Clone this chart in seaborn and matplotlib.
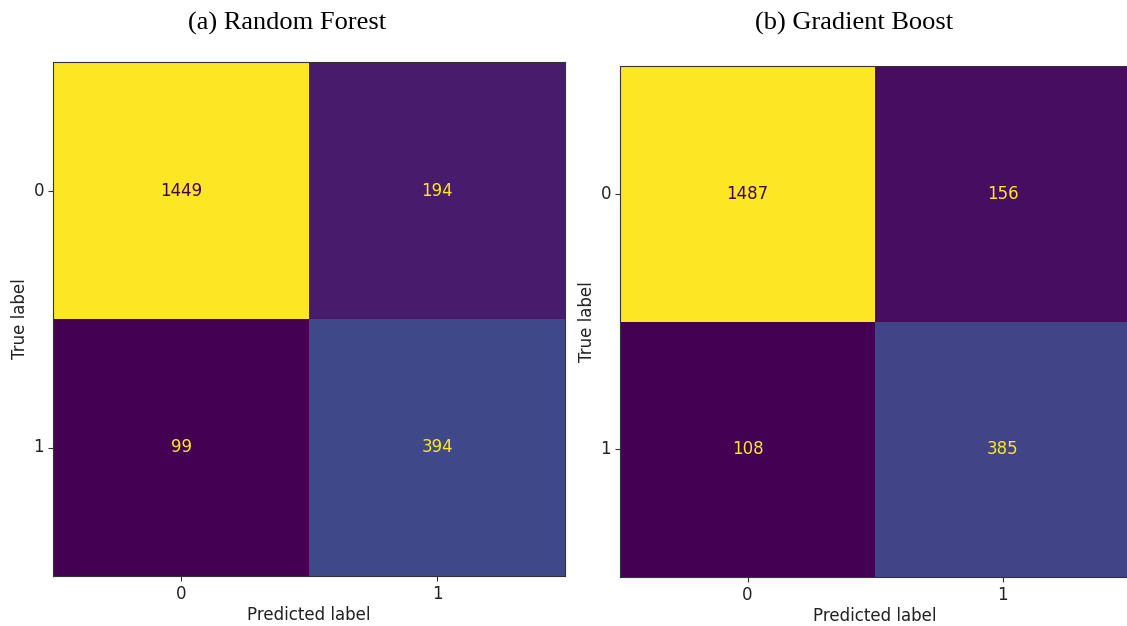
import numpy as np
import pandas as pd
import matplotlib
matplotlib.use("Agg")
import matplotlib.pyplot as plt
import seaborn as sns

# Confusion matrices (rows: true label, columns: predicted label)
class_labels = ["0", "1"]
rf_counts = [[1449, 194],
             [99, 394]]
gb_counts = [[1487, 156],
             [108, 385]]
panel_titles = ["(a) Random Forest", "(b) Gradient Boost"]

W, H = 1127, 626
fig = plt.figure(figsize=(W / 100, H / 100), dpi=100)

# axes rectangles in pixel units: left, top, right, bottom
boxes = [(53, 62, 565, 576), (620, 66, 1130, 577)]
title_y = [23, 23]
title_x = [287, 854]

cmap = plt.get_cmap("viridis")

for counts, title, box, tx, ty in zip([rf_counts, gb_counts], panel_titles, boxes, title_x, title_y):
    l, t, r, b = box
    ax = fig.add_axes([l / W, 1 - b / H, (r - l) / W, (b - t) / H])
    df = pd.DataFrame(np.array(counts), index=class_labels, columns=class_labels)
    sns.heatmap(df, ax=ax, cmap="viridis", cbar=False, annot=True, fmt="d",
                annot_kws={"fontsize": 12, "family": "DejaVu Sans"})
    vals = np.array(counts)
    thresh = (vals.max() + vals.min()) / 2.0
    for txt, v in zip(ax.texts, vals.flatten()):
        txt.set_color(cmap(1.0) if v < thresh else cmap(0.0))
    for s in ax.spines.values():
        s.set_visible(True)
        s.set_color("#333333")
        s.set_linewidth(0.8)
    ax.tick_params(axis="both", length=3.5, width=0.8, labelsize=12, color="#333333",
                   labelcolor="#222222", pad=3)
    ax.set_yticklabels(class_labels, rotation=0)
    ax.set_xticklabels(class_labels, rotation=0)
    ax.set_xlabel("Predicted label", fontsize=12, family="DejaVu Sans", color="#222222",
                  labelpad=2)
    ax.set_ylabel("True label", fontsize=12, family="DejaVu Sans", color="#222222",
                  labelpad=3)
    fig.text(tx / W, 1 - ty / H, title, ha="center", va="center",
             fontsize=19, family="Liberation Serif")

fig.savefig("out.png", dpi=100)
